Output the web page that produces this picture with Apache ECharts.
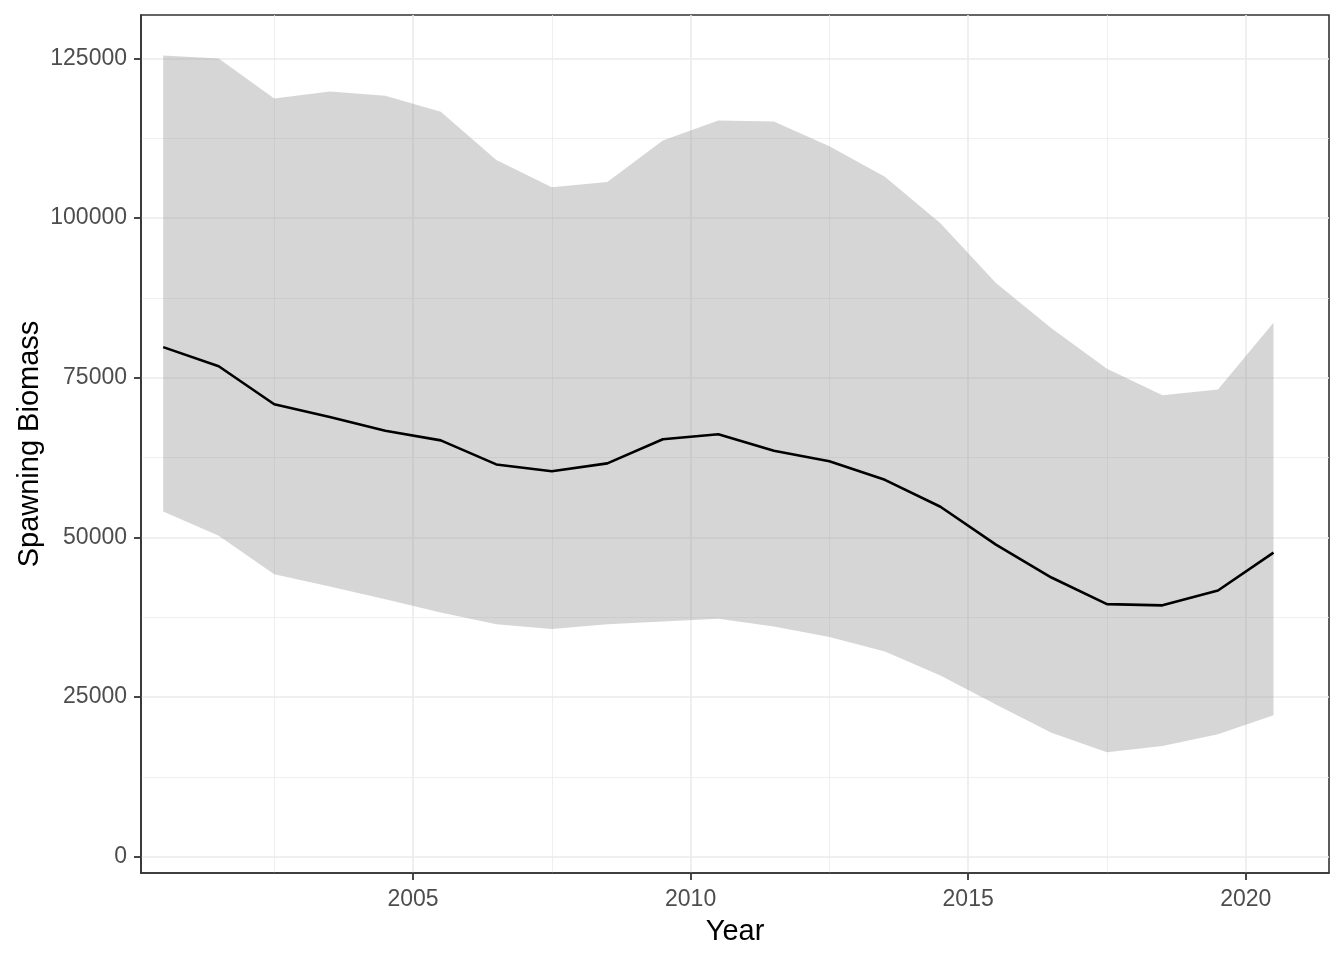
<!DOCTYPE html>
<html>
<head>
<meta charset="utf-8">
<script src="https://cdn.jsdelivr.net/npm/echarts@6/dist/echarts.min.js"></script>
<style>
html,body{margin:0;padding:0;background:#ffffff;}
#chart{width:1344px;height:960px;}
</style>
</head>
<body>
<div id="chart"></div>
<script>
// ---- data ----
const years = [2000.5, 2001.5, 2002.5, 2003.5, 2004.5, 2005.5, 2006.5, 2007.5, 2008.5, 2009.5,
               2010.5, 2011.5, 2012.5, 2013.5, 2014.5, 2015.5, 2016.5, 2017.5, 2018.5, 2019.5, 2020.5];
const median = [79800, 76800, 70850, 68850, 66700, 65200, 61430, 60360, 61590, 65370,
                66150, 63580, 61930, 59020, 54800, 48870, 43720, 39550, 39360, 41680, 47620];
const lower  = [54050, 50250, 44220, 42300, 40300, 38240, 36420, 35660, 36420, 36820,
                37250, 36050, 34420, 32120, 28360, 23820, 19400, 16360, 17330, 19180, 22150];
const upper  = [125450, 125000, 118740, 119830, 119180, 116650, 109100, 104830, 105670, 112160,
                115290, 115140, 111250, 106480, 99200, 89830, 82750, 76430, 72260, 73150, 83600];
const xMajorTicks = [2005, 2010, 2015, 2020];
const xMinorTicks = [2002.5, 2007.5, 2012.5, 2017.5];
const yMajorTicks = [0, 25000, 50000, 75000, 100000, 125000];
const yMinorTicks = [12500, 37500, 62500, 87500, 112500];
const xTitle = 'Year';
const yTitle = 'Spawning Biomass';

// ---- layout / style ----
const FONT = '"Liberation Sans", Arial, Helvetica, sans-serif';
const X_MIN = 2000.1, X_MAX = 2021.5;
const Y_MIN = -2552, Y_MAX = 131810;
const DARK = '#333333';

const chart = echarts.init(document.getElementById('chart'), null, {renderer: 'canvas'});

const option = {
  animation: false,
  backgroundColor: '#ffffff',
  textStyle: {fontFamily: FONT},
  grid: {
    left: 141, right: 15, top: 15, bottom: 87,
    show: true, borderColor: DARK, borderWidth: 1.6, backgroundColor: 'transparent'
  },
  xAxis: [
    {
      type: 'value', min: X_MIN, max: X_MAX, position: 'bottom',
      axisLine: {show: true, onZero: false, lineStyle: {color: DARK, width: 1.6}},
      axisTick: {show: true, inside: false, length: 7, lineStyle: {color: DARK, width: 1.8}, customValues: xMajorTicks},
      axisLabel: {customValues: xMajorTicks, fontSize: 23, color: '#4D4D4D', margin: 15, fontFamily: FONT,
                  formatter: v => String(v)},
      splitLine: {show: true, lineStyle: {color: '#EBEBEB', width: 1.6}},
      name: xTitle, nameLocation: 'middle', nameGap: 44, nameMoveOverlap: false,
      nameTextStyle: {fontSize: 29, color: '#000000', fontFamily: FONT}
    },
    {
      type: 'value', min: X_MIN, max: X_MAX, position: 'bottom',
      axisLine: {show: false, onZero: false},
      axisTick: {show: false, customValues: xMinorTicks},
      axisLabel: {show: false, customValues: xMinorTicks},
      splitLine: {show: true, lineStyle: {color: '#EBEBEB', width: 0.8}}
    }
  ],
  yAxis: [
    {
      type: 'value', min: Y_MIN, max: Y_MAX, position: 'left',
      axisLine: {show: true, onZero: false, lineStyle: {color: DARK, width: 1.6}},
      axisTick: {show: true, inside: false, length: 7, lineStyle: {color: DARK, width: 1.8}, customValues: yMajorTicks},
      axisLabel: {customValues: yMajorTicks, fontSize: 23, color: '#4D4D4D', margin: 14, fontFamily: FONT,
                  padding: [5, 0, 0, 0], formatter: v => String(v)},
      splitLine: {show: true, lineStyle: {color: '#EBEBEB', width: 1.6}},
      name: yTitle, nameLocation: 'middle', nameGap: 97, nameRotate: 90, nameMoveOverlap: false,
      nameTextStyle: {fontSize: 29, color: '#000000', fontFamily: FONT}
    },
    {
      type: 'value', min: Y_MIN, max: Y_MAX, position: 'left',
      axisLine: {show: false, onZero: false},
      axisTick: {show: false, customValues: yMinorTicks},
      axisLabel: {show: false, customValues: yMinorTicks},
      splitLine: {show: true, lineStyle: {color: '#EBEBEB', width: 0.8}}
    }
  ],
  series: [
    {
      type: 'custom',
      xAxisIndex: 0, yAxisIndex: 0,
      silent: true, z: 2,
      data: years.map((y, i) => [y, lower[i], upper[i]]),
      encode: {x: 0, y: [1, 2]},
      renderItem: function (params, api) {
        if (params.dataIndex !== 0) return null;
        const pts = [];
        for (let i = 0; i < years.length; i++) pts.push(api.coord([years[i], upper[i]]));
        for (let i = years.length - 1; i >= 0; i--) pts.push(api.coord([years[i], lower[i]]));
        return {type: 'polygon', shape: {points: pts}, style: {fill: 'rgba(153,153,153,0.4)', stroke: null}};
      }
    },
    {
      type: 'line',
      xAxisIndex: 0, yAxisIndex: 0,
      silent: true, z: 3,
      data: years.map((y, i) => [y, median[i]]),
      showSymbol: false, symbol: 'none',
      lineStyle: {color: '#000000', width: 2.6}
    }
  ]
};
chart.setOption(option);
</script>
</body>
</html>
